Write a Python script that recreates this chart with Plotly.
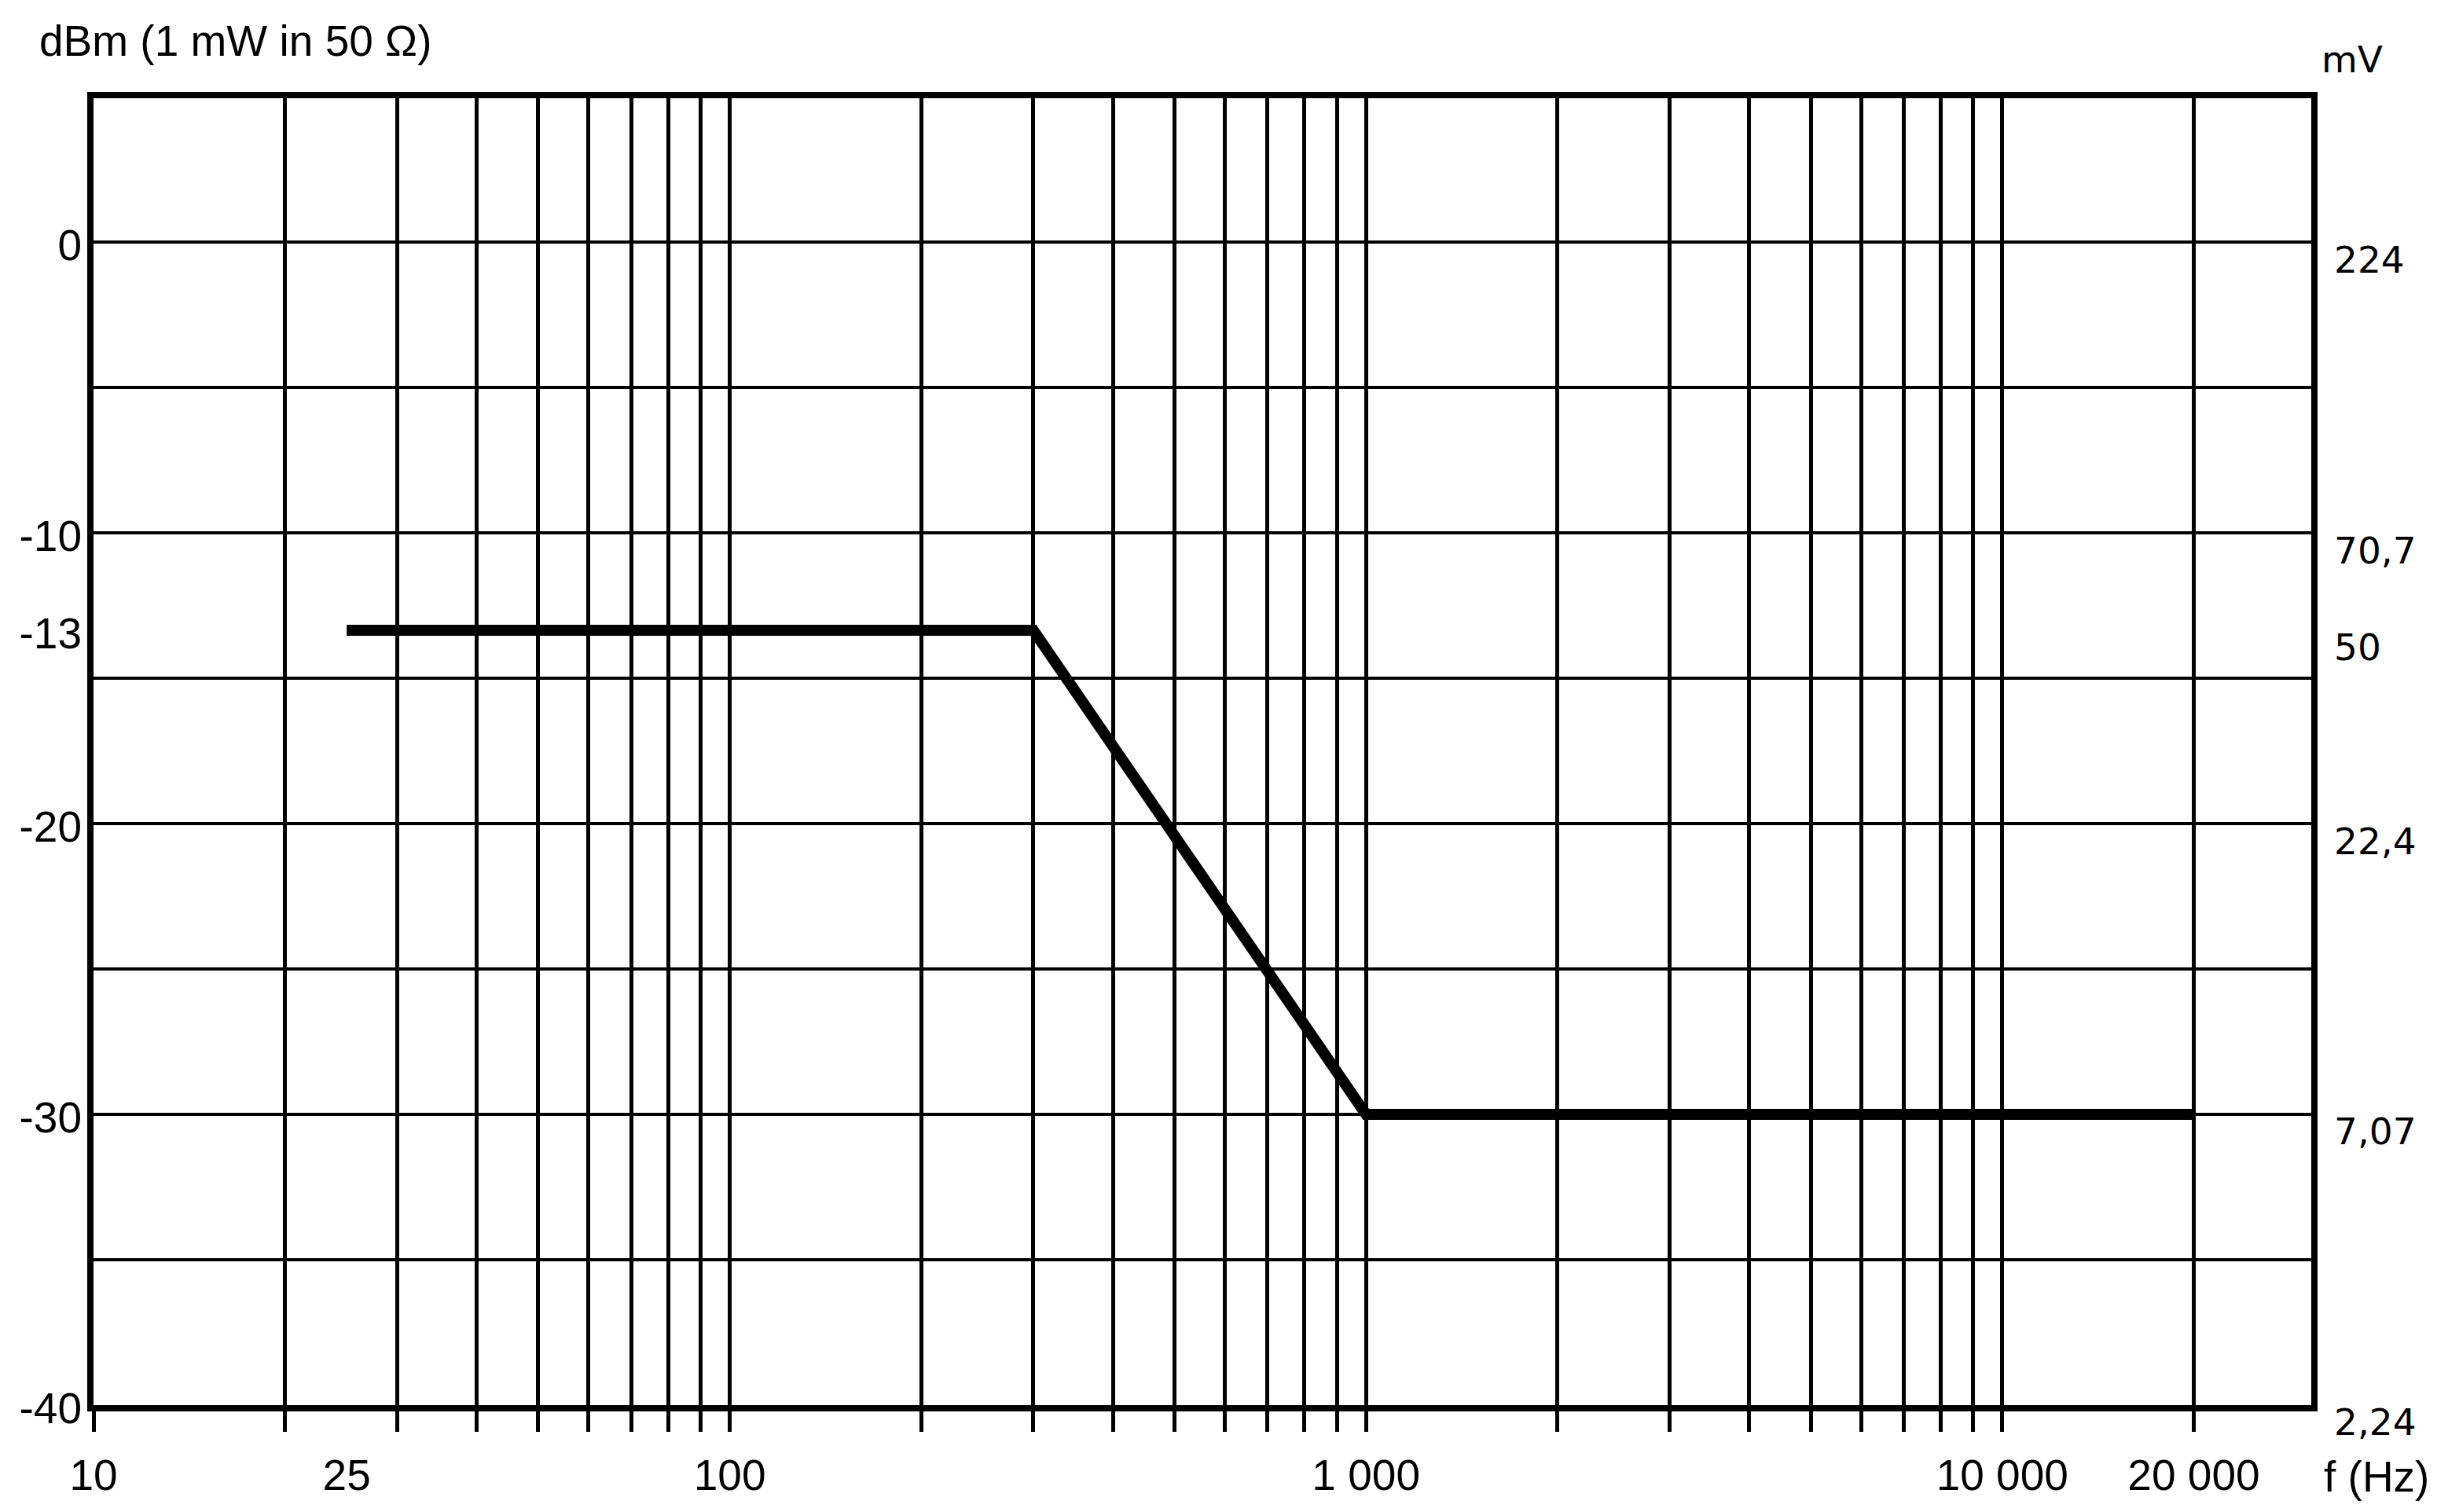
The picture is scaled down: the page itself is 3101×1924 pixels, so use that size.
import math
import plotly.graph_objects as go

# curve: frequency (Hz) vs level (dBm); the -13 level sits a little low on the
# original drawing's scale, so it is read off the picture as -13.35
freq_hz = [25, 300, 1000, 20000]
level_dbm = [-13.35, -13.35, -30, -30]

# vertical grid (log paper) and horizontal grid
grid_freqs = [d * 10 ** k for k in range(1, 4) for d in range(1, 10)] + [10000, 20000]
grid_levels = list(range(-40, 10, 5))

# bottom labels
x_label_vals = [10, 25, 100, 1000, 10000, 20000]
x_label_text = ["10", "25", "100", "1 000", "10 000", "20 000"]

# left (dBm) and right (mV) labels
y_label_vals = [0, -10, -13.35, -20, -30, -40]
y_left_text = ["0", "-10", "-13", "-20", "-30", "-40"]
y_right_text = ["224", "70,7", "50", "22,4", "7,07", "2,24"]

x_range = [1, math.log10(30600)]
y_range = [-40, 4.95]

LEFT_FONT = dict(family="Liberation Sans, Arial, sans-serif", size=55, color="black")
RIGHT_FONT = dict(family="DejaVu Sans, Verdana, sans-serif", size=47, color="black")

fig = go.Figure()

fig.add_trace(go.Scatter(
    x=freq_hz, y=level_dbm, mode="lines",
    line=dict(color="black", width=14),
    showlegend=False, hoverinfo="skip",
))

# invisible traces so the label-only axes get drawn
fig.add_trace(go.Scatter(x=freq_hz, y=level_dbm, xaxis="x2", yaxis="y2",
                         mode="lines", opacity=0, showlegend=False, hoverinfo="skip"))
fig.add_trace(go.Scatter(x=freq_hz, y=level_dbm, xaxis="x2", yaxis="y3",
                         mode="lines", opacity=0, showlegend=False, hoverinfo="skip"))

fig.update_layout(
    width=3101, height=1924,
    margin=dict(l=111, r=168, t=117, b=144),
    paper_bgcolor="white", plot_bgcolor="white",
    xaxis=dict(
        type="log", range=x_range,
        tickmode="array", tickvals=grid_freqs, ticktext=[""] * len(grid_freqs),
        ticks="outside", ticklen=26, tickwidth=5, tickcolor="black",
        showgrid=True, gridcolor="black", gridwidth=5,
        showline=True, linecolor="black", linewidth=8, mirror=True,
        zeroline=False,
    ),
    xaxis2=dict(
        type="log", range=x_range, overlaying="x", side="bottom",
        tickmode="array", tickvals=x_label_vals, ticktext=x_label_text,
        ticks="", showgrid=False, zeroline=False, showline=False,
        tickfont=LEFT_FONT, ticklabelstandoff=52,
    ),
    yaxis=dict(
        range=y_range,
        tickmode="array", tickvals=grid_levels, ticktext=[""] * len(grid_levels),
        ticks="", showgrid=True, gridcolor="black", gridwidth=4,
        showline=True, linecolor="black", linewidth=8, mirror=True,
        zeroline=False,
    ),
    yaxis2=dict(
        range=y_range, overlaying="y", side="left",
        tickmode="array", tickvals=y_label_vals, ticktext=y_left_text,
        ticks="", showgrid=False, zeroline=False, showline=False,
        tickfont=LEFT_FONT, ticklabelstandoff=14, ticklabelshift=4,
    ),
    yaxis3=dict(
        range=y_range, overlaying="y", side="right",
        tickmode="array", tickvals=y_label_vals, ticktext=y_right_text,
        ticks="", showgrid=False, zeroline=False, showline=False,
        tickfont=RIGHT_FONT, ticklabelstandoff=28, ticklabelshift=22,
    ),
    annotations=[
        dict(text="dBm (1 mW in 50 Ω)", xref="paper", yref="paper",
             x=-0.025, y=1.044, xanchor="left", yanchor="middle",
             showarrow=False, font=LEFT_FONT),
        dict(text="mV", xref="paper", yref="paper",
             x=1.004, y=1.030, xanchor="left", yanchor="middle",
             showarrow=False, font=RIGHT_FONT),
        dict(text="f (Hz)", xref="paper", yref="paper",
             x=1.005, y=-0.055, xanchor="left", yanchor="middle",
             showarrow=False, font=LEFT_FONT),
    ],
)

fig.write_html("out.html")
